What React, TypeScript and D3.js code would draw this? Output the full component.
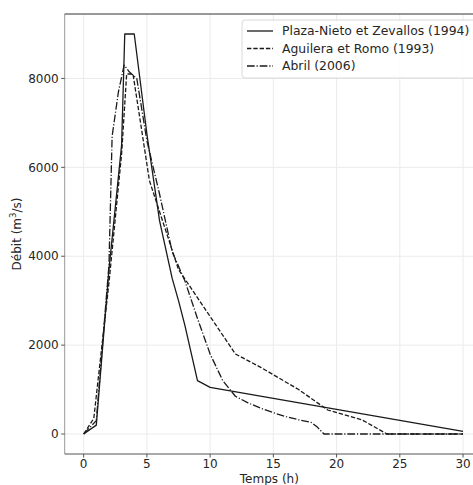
import * as d3 from 'd3';

// Hydrogrammes (temps en heures, débit en m3/s)
const plazaT = [0, 1, 2, 3, 3.25, 4, 5, 6, 7, 7.5, 8, 9, 10, 30];
const plazaQ = [0, 200, 3700, 6500, 9000, 9000, 6750, 4800, 3500, 3000, 2450, 1200, 1050, 60];

const aguileraT = [0, 0.8, 2, 3, 3.4, 3.9, 4.5, 5.2, 7.5, 12, 14, 17, 19.3, 22, 23.8, 24, 30];
const aguileraQ = [0, 350, 3400, 6300, 8100, 8100, 7000, 5700, 3700, 1800, 1500, 1000, 540, 320, 30, 0, 0];

const abrilT = [0, 1, 2, 2.25, 2.75, 3.2, 3.6, 4.2, 5, 6, 7, 8, 9, 10, 11, 12, 13, 14, 15, 16, 17, 18, 18.5, 19, 30];
const abrilQ = [0, 300, 3800, 6700, 7700, 8300, 8150, 8000, 6600, 5400, 4100, 3450, 2600, 1800, 1200, 850, 700, 580, 480, 390, 320, 260, 150, 0, 0];

const xTicks = [0, 5, 10, 15, 20, 25, 30];
const yTicks = [0, 2000, 4000, 6000, 8000];

const series = [
  { name: 'Plaza-Nieto et Zevallos (1994)', t: plazaT, q: plazaQ, dash: '' },
  { name: 'Aguilera et Romo (1993)', t: aguileraT, q: aguileraQ, dash: '4.4,1.9' },
  { name: 'Abril (2006)', t: abrilT, q: abrilQ, dash: '7.7,1.9,1.2,1.9' },
];

export default function App() {
  const W = 473;
  const H = 485;
  const margin = { left: 64.7, right: 482, top: 14, bottom: 454 };

  const x = d3.scaleLinear().domain([-1.5, 31.5]).range([margin.left, margin.right]);
  const y = d3.scaleLinear().domain([-450, 9450]).range([margin.bottom, margin.top]);

  const line = d3.line<[number, number]>()
    .x(d => x(d[0]))
    .y(d => y(d[1]));

  const font = 'DejaVu Sans, sans-serif';
  const textColor = '#262626';

  return (
    <svg width={W} height={H} style={{ position: 'absolute', left: 0, top: 0, background: '#fff' }}
      fontFamily={font}>
      <defs>
        <clipPath id="plot">
          <rect x={margin.left} y={margin.top} width={margin.right - margin.left} height={margin.bottom - margin.top} />
        </clipPath>
      </defs>

      {/* grille */}
      {xTicks.map(t => (
        <line key={'gx' + t} x1={x(t)} x2={x(t)} y1={margin.top} y2={margin.bottom} stroke="#ebebeb" strokeWidth={1} />
      ))}
      {yTicks.map(t => (
        <line key={'gy' + t} x1={margin.left} x2={margin.right} y1={y(t)} y2={y(t)} stroke="#ebebeb" strokeWidth={1} />
      ))}

      {/* courbes */}
      <g clipPath="url(#plot)">
        {series.map(s => (
          <path key={s.name}
            d={line(s.t.map((t, i) => [t, s.q[i]] as [number, number])) || ''}
            fill="none" stroke="#1a1a1a" strokeWidth={1.3}
            strokeDasharray={s.dash || undefined} strokeLinejoin="round" />
        ))}
      </g>

      {/* axes */}
      <line x1={margin.left} x2={margin.left} y1={margin.top} y2={margin.bottom} stroke="#999" strokeWidth={1} />
      <line x1={margin.left} x2={margin.right} y1={margin.top} y2={margin.top} stroke="#333" strokeWidth={1} />
      <line x1={margin.left} x2={margin.right} y1={margin.bottom} y2={margin.bottom} stroke="#555" strokeWidth={1} />

      {xTicks.map(t => (
        <g key={'tx' + t}>
          <line x1={x(t)} x2={x(t)} y1={margin.bottom} y2={margin.bottom + 3.5} stroke="#555" />
          <text x={x(t)} y={margin.bottom + 13.5} textAnchor="middle" fontSize={12} fill={textColor}>{t}</text>
        </g>
      ))}
      {yTicks.map(t => (
        <g key={'ty' + t}>
          <line x1={margin.left - 3.5} x2={margin.left} y1={y(t)} y2={y(t)} stroke="#555" />
          <text x={margin.left - 6} y={y(t)} dy="0.35em" textAnchor="end" fontSize={12} fill={textColor}>{t}</text>
        </g>
      ))}

      <text x={(margin.left + margin.right) / 2 - 4} y={482.5} textAnchor="middle" fontSize={12} fill={textColor}>Temps (h)</text>
      <text transform={`translate(21,${(margin.top + margin.bottom) / 2}) rotate(-90)`} textAnchor="middle"
        fontSize={12} fill={textColor}>
        Débit (m<tspan fontSize={8.5} dy={-5}>3</tspan><tspan dy={5}>/s)</tspan>
      </text>

      {/* légende */}
      <rect x={242} y={20} width={245} height={58} rx={3} fill="#fff" fillOpacity={0.85} stroke="#d9d9d9" />
      {series.map((s, i) => (
        <g key={'lg' + s.name}>
          <line x1={247} x2={273} y1={31 + i * 17.5} y2={31 + i * 17.5} stroke="#1a1a1a" strokeWidth={1.3}
            strokeDasharray={s.dash || undefined} />
          <text x={282} y={31 + i * 17.5} dy="0.35em" fontSize={12.4} fill={textColor}>{s.name}</text>
        </g>
      ))}
    </svg>
  );
}
